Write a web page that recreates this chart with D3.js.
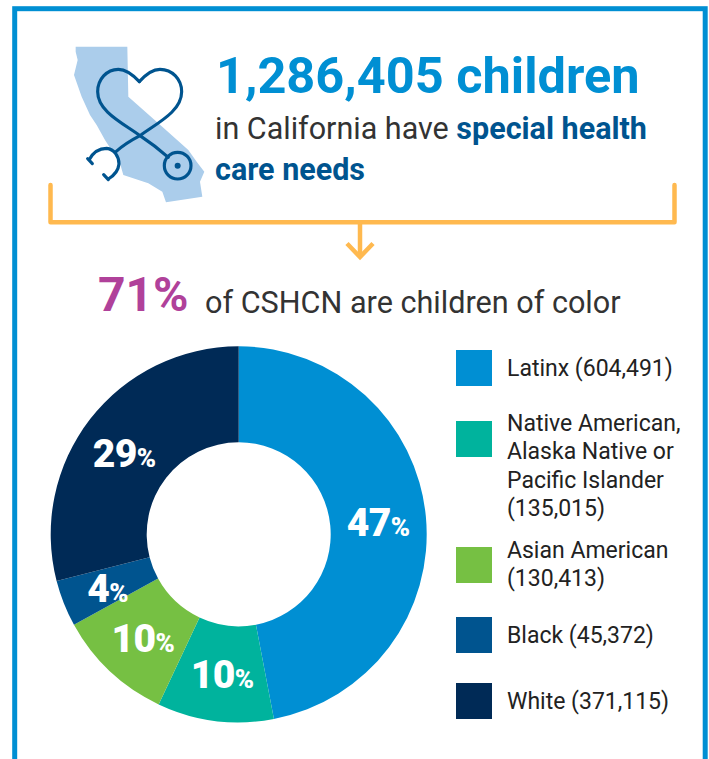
<!DOCTYPE html>
<html>
<head>
<meta charset="utf-8">
<script src="https://cdn.jsdelivr.net/npm/d3@7"></script>
<style>
html, body { margin: 0; padding: 0; background: #fff; }
svg { display: block; }
text { font-family: Roboto, sans-serif; }
</style>
</head>
<body>
<svg id="chart" width="709" height="759"></svg>
<script>
var categories = ["Latinx", "Native American, Alaska Native or Pacific Islander", "Asian American", "Black", "White"];
var percents = [47, 10, 10, 4, 29];
var colors = ["#008fd3", "#00b39d", "#76c043", "#00548f", "#002a56"];
var legendLines = [
    ["Latinx (604,491)"],
    ["Native American,", "Alaska Native or", "Pacific Islander", "(135,015)"],
    ["Asian American", "(130,413)"],
    ["Black (45,372)"],
    ["White (371,115)"]
];

var svg = d3.select("#chart");

// frame, runs off the bottom of the page
svg.append("rect")
    .attr("x", 14.7).attr("y", 8.7)
    .attr("width", 690.5).attr("height", 800)
    .attr("fill", "none")
    .attr("stroke", "#008fd3")
    .attr("stroke-width", 5);

// California + stethoscope icon
var icon = svg.append("g").attr("transform", "translate(65,40) scale(0.3333)");
icon.append("path")
    .attr("d", "M32,20 L187,20 L190,170 L280,250 L370,330 L395,365 L418,395 L405,425 L412,470 L303,487 L292,455 L250,430 L175,405 L165,370 L120,300 L95,255 L75,225 L50,170 L27,105 L38,60 L32,35 Z")
    .attr("fill", "#abcdeb");
var scope = icon.append("g")
    .attr("fill", "none")
    .attr("stroke", "#00548f")
    .attr("stroke-width", 9.5)
    .attr("stroke-linejoin", "round")
    .attr("stroke-linecap", "round");
scope.append("path").attr("d", "M223,125 C200,100 182,88 160,88 C125,88 98,118 98,155 C98,215 175,250 225,287 C255,307 285,330 310,352");
scope.append("path").attr("d", "M223,125 C245,100 263,88 285,88 C322,88 350,118 350,155 C350,215 275,250 225,287 C200,300 175,315 153,335");
scope.append("path").attr("d", "M68,356 L82,371 M72,360 C85,335 105,325 125,325 C148,327 162,350 162,372 C160,392 145,408 130,417 M116,404 L130,419");
scope.append("circle").attr("cx", 338).attr("cy", 377).attr("r", 40);
icon.append("circle").attr("cx", 338).attr("cy", 377).attr("r", 9).attr("fill", "#00548f");

// headline
svg.append("text").attr("x", 216).attr("y", 93)
    .attr("font-size", 50.5).attr("font-weight", 700).attr("fill", "#008fd3")
    .text("1,286,405 children");
var line1 = svg.append("text").attr("x", 215).attr("y", 139).attr("font-size", 30.5).attr("fill", "#333");
line1.append("tspan").text("in California have ");
line1.append("tspan").attr("font-weight", 700).attr("fill", "#00548f").text("special health");
svg.append("text").attr("x", 215).attr("y", 180)
    .attr("font-size", 30.5).attr("font-weight", 700).attr("fill", "#00548f")
    .text("care needs");

// bracket and arrow
var bracket = svg.append("g")
    .attr("fill", "none")
    .attr("stroke", "#ffb94f")
    .attr("stroke-width", 4.5);
bracket.append("path")
    .attr("d", "M50.5,185 V222.3 H674.5 V185")
    .attr("stroke-linecap", "round")
    .attr("stroke-linejoin", "round");
bracket.append("path").attr("d", "M360,222.3 V257");
bracket.append("path").attr("d", "M347,243.5 L360,257 L373,243.5");

// subtitle
svg.append("text").attr("x", 98).attr("y", 311)
    .attr("font-size", 48).attr("font-weight", 700).attr("fill", "#b0419a")
    .text("71%");
svg.append("text").attr("x", 205).attr("y", 313)
    .attr("font-size", 30.6).attr("fill", "#333")
    .text("of CSHCN are children of color");

// donut, slices follow the rounded percents
var pie = d3.pie().sort(null);
var arcs = pie(percents);
var arc = d3.arc().innerRadius(92).outerRadius(188);
var labelArc = d3.arc().innerRadius(140).outerRadius(140);
var labelNudge = [[0, 1], [1, 1], [0, 2], [-1, 3], [-4, 5]];
var donut = svg.append("g").attr("transform", "translate(238.7,534.3)");

donut.selectAll("path.slice")
    .data(arcs)
    .enter().append("path")
    .attr("class", "slice")
    .attr("d", arc)
    .attr("fill", function(d, i) { return colors[i]; });

var labels = donut.selectAll("text.pct")
    .data(arcs)
    .enter().append("text")
    .attr("class", "pct")
    .attr("transform", function(d, i) {
        var c = labelArc.centroid(d);
        return "translate(" + (c[0] + labelNudge[i][0]) + "," + (c[1] + labelNudge[i][1]) + ")";
    })
    .attr("text-anchor", "middle")
    .attr("dy", "0.35em")
    .attr("fill", "#fff")
    .attr("font-weight", 900)
    .attr("font-size", 39)
    .attr("letter-spacing", -0.6);
labels.append("tspan").text(function(d) { return d.value; });
labels.append("tspan").attr("font-size", 26).attr("font-weight", 900).text("%");

// legend
var legendY = [350, 421, 547, 617, 683];
var legendFirst = [26, 10, 11, 26, 26];
var legend = svg.selectAll("g.legend")
    .data(categories)
    .enter().append("g")
    .attr("class", "legend")
    .attr("transform", function(d, i) { return "translate(456," + legendY[i] + ")"; });
legend.append("rect")
    .attr("width", 36).attr("height", 36)
    .attr("fill", function(d, i) { return colors[i]; });
legend.each(function(d, i) {
    d3.select(this).selectAll("text")
        .data(legendLines[i])
        .enter().append("text")
        .attr("x", 51)
        .attr("y", function(t, j) { return legendFirst[i] + j * 28.3; })
        .attr("font-size", 23)
        .attr("fill", "#222")
        .text(function(t) { return t; });
});
</script>
</body>
</html>
